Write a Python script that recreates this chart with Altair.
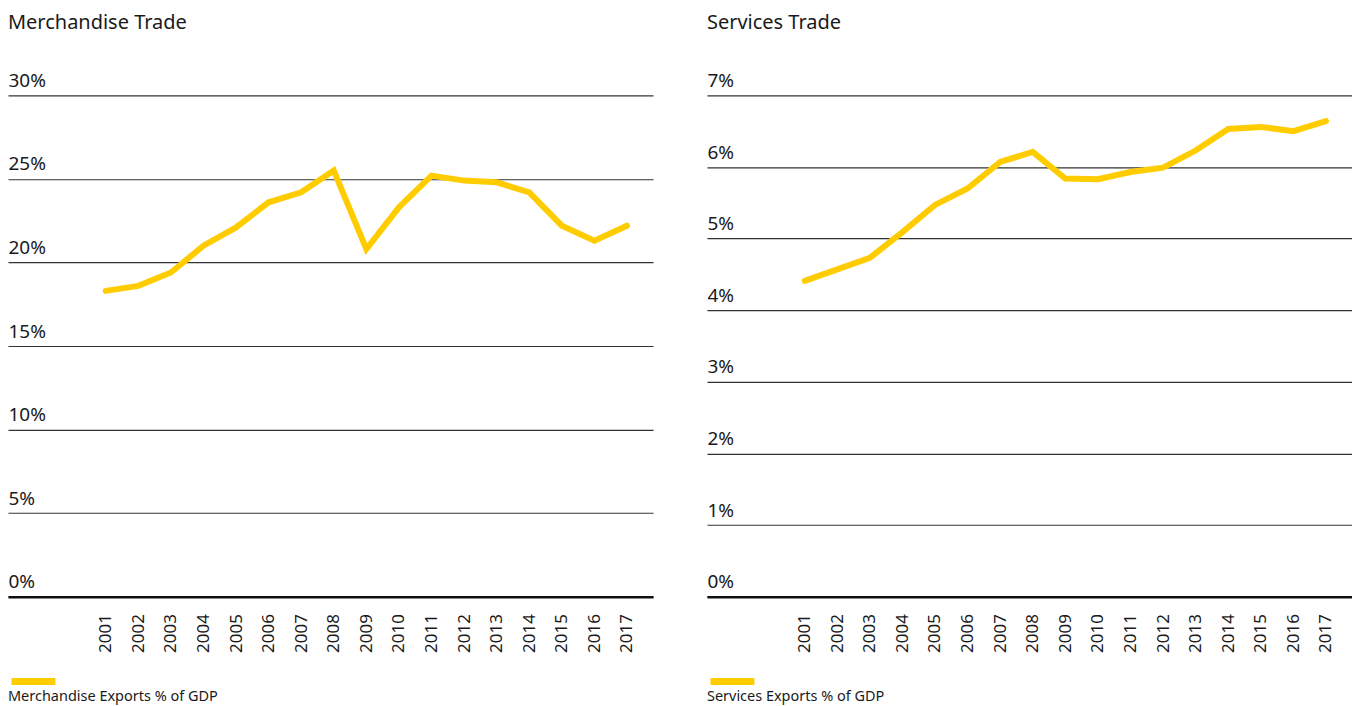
import altair as alt
import pandas as pd

years = list(range(2001, 2018))
merch = [18.3, 18.6, 19.4, 21.0, 22.1, 23.6, 24.2, 25.5, 20.8, 23.3, 25.2,
         24.9, 24.8, 24.2, 22.2, 21.3, 22.2]
serv = [4.41, 4.57, 4.73, 5.09, 5.47, 5.70, 6.07, 6.21, 5.84, 5.83, 5.93,
        5.99, 6.23, 6.53, 6.56, 6.50, 6.64]

merch_ticks = [0, 5, 10, 15, 20, 25, 30]
serv_ticks = [0, 1, 2, 3, 4, 5, 6, 7]

FONT = "Noto Sans"
YELLOW = "#FFCC00"
INK = "#1a1a1a"


def panel(values, series, title, ticks):
    df = pd.DataFrame({"year": years, "value": values, "series": series})
    return (
        alt.Chart(df, title=alt.TitleParams(
            title, anchor="start", fontSize=20, fontWeight="normal",
            font=FONT, color=INK, offset=38))
        .mark_line(strokeWidth=6, strokeJoin="miter", strokeCap="round")
        .encode(
            x=alt.X("year:Q",
                    scale=alt.Scale(domain=[1998, 2017.8], nice=False, zero=False),
                    axis=alt.Axis(values=years, format="d", labelAngle=270,
                                  title=None, grid=False, ticks=False,
                                  labelPadding=17, labelFontSize=17,
                                  labelFont=FONT, labelColor=INK,
                                  domainColor="#111", domainWidth=2.5)),
            y=alt.Y("value:Q",
                    scale=alt.Scale(domain=[0, ticks[-1]], nice=False),
                    axis=alt.Axis(values=ticks, labelExpr="datum.value + '%'",
                                  title=None, domain=False, ticks=False,
                                  grid=True, gridColor="#333", gridWidth=1.2,
                                  labelAlign="left", labelPadding=0,
                                  labelBaseline="alphabetic", labelOffset=-9,
                                  labelFontSize=19, labelFont=FONT,
                                  labelColor=INK)),
            color=alt.Color("series:N", scale=alt.Scale(range=[YELLOW]),
                            legend=alt.Legend(
                                title=series, titleOrient="bottom",
                                titleAnchor="start", titleFontSize=14.5,
                                titleFontWeight="normal", titleFont=FONT,
                                titleColor=INK, titlePadding=4,
                                titleLimit=500,
                                labelExpr="''", symbolType="stroke",
                                symbolSize=1936, symbolStrokeWidth=7,
                                clipHeight=8, orient="none",
                                legendX=0, legendY=583, padding=0)),
        )
        .properties(width=646, height=502)
    )


left = panel(merch, "Merchandise Exports % of GDP", "Merchandise Trade", merch_ticks)
right = panel(serv, "Services Exports % of GDP", "Services Trade", serv_ticks)

chart = (
    alt.hconcat(left, right, spacing=54)
    .resolve_scale(color="independent")
    .properties(padding={"top": 5, "left": 0, "right": 0, "bottom": 0})
    .configure_view(stroke=None)
)

chart.save("out.html", embed_options={"renderer": "svg", "actions": False})
